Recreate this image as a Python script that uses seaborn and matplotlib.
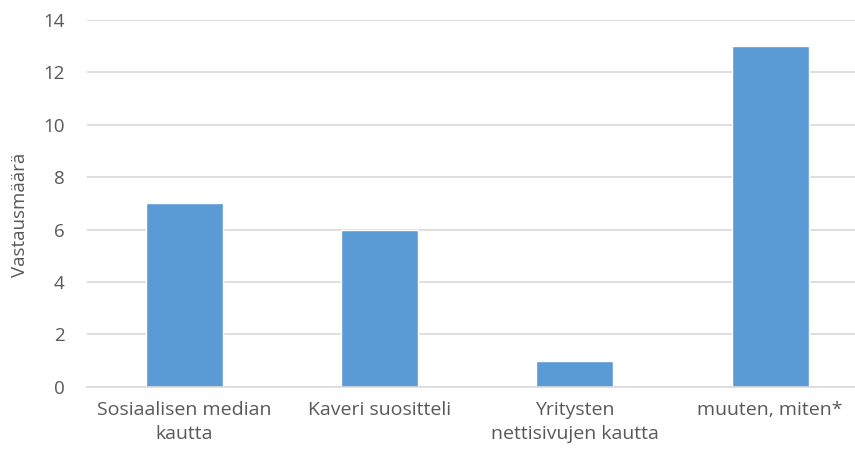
import matplotlib
matplotlib.use("Agg")
import matplotlib.pyplot as plt
import seaborn as sns
import pandas as pd

categories = ["Sosiaalisen median\nkautta", "Kaveri suositteli", "Yritysten\nnettisivujen kautta", "muuten, miten*"]
values = [7, 6, 1, 13]
y_ticks = [0, 2, 4, 6, 8, 10, 12, 14]
y_label = "Vastausmäärä"

sns.set_theme(style="white")
plt.rcParams['font.family'] = ['Open Sans', 'DejaVu Sans']

df = pd.DataFrame({"cat": categories, "val": values})
fig = plt.figure(figsize=(8.55, 4.55), dpi=100)
ax = fig.add_axes([0.1018, 0.150, 0.913, 0.806])
sns.barplot(data=df, x="cat", y="val", color="#5B9BD5", saturation=1, width=0.395, ax=ax)
ax.set_ylim(0, 14)
ax.set_yticks(y_ticks)
ax.yaxis.grid(True, color="#D9D9D9", linewidth=1.2)
ax.set_axisbelow(True)
for s in ["top", "right", "left"]:
    ax.spines[s].set_visible(False)
ax.spines["bottom"].set_color("#D9D9D9")
ax.spines["bottom"].set_linewidth(1.2)
ax.tick_params(axis="both", length=0, colors="#595959", labelsize=13.5)
ax.tick_params(axis="x", labelsize=14, pad=10)
ax.tick_params(axis="y", pad=16)
plt.setp(ax.get_xticklabels(), linespacing=1.45)
ax.set_xlabel("")
ax.set_ylabel(y_label, color="#595959", fontsize=13.5)
ax.yaxis.set_label_coords(-0.074, 0.47)
fig.savefig("out.png", dpi=100)
